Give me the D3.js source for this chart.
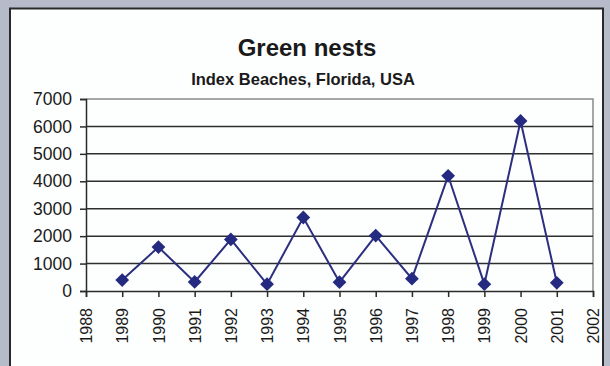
<!DOCTYPE html>
<html><head><meta charset="utf-8">
<script src="https://cdn.jsdelivr.net/npm/d3@7"></script>
<style>
html,body{margin:0;padding:0;background:#b5bbc9;}
svg{display:block;}
</style></head>
<body>
<svg id="chart" width="610" height="366"></svg>
<script>
const years = [1989,1990,1991,1992,1993,1994,1995,1996,1997,1998,1999,2000,2001];
const nests = [400,1600,330,1880,250,2680,320,2020,450,4200,250,6200,300];
const yTicks = [0,1000,2000,3000,4000,5000,6000,7000];
const xTicks = [1988,1989,1990,1991,1992,1993,1994,1995,1996,1997,1998,1999,2000,2001,2002];
const title = "Green nests";
const subtitle = "Index Beaches, Florida, USA";

const svg = d3.select("#chart");
const font = "'Liberation Sans', Arial, sans-serif";

// panel
svg.append("rect").attr("x",10).attr("y",8.5).attr("width",593).attr("height",360)
  .attr("fill","#fdfefe").attr("stroke","#2a2a2a").attr("stroke-width",2);

const L=86, R=593, T=99, B=291;
const x = d3.scaleLinear().domain([1988,2002]).range([L,R]);
const y = d3.scaleLinear().domain([0,7000]).range([B,T]);

svg.append("text").attr("x",307).attr("y",56).attr("text-anchor","middle")
  .attr("font-family",font).attr("font-weight","bold").attr("font-size",24).attr("fill","#1a1a1a").text(title);
svg.append("text").attr("x",303).attr("y",85).attr("text-anchor","middle")
  .attr("font-family",font).attr("font-weight","bold").attr("font-size",16.5).attr("fill","#1a1a1a").text(subtitle);

// plot border (top/right)
svg.append("path").attr("d",`M${L},${T}H${R}V${B}`).attr("fill","none").attr("stroke","#8a8a8a").attr("stroke-width",1.5);

// gridlines
svg.append("g").selectAll("line").data(yTicks.filter(v=>v>0&&v<7000)).join("line")
  .attr("x1",L).attr("x2",R).attr("y1",d=>y(d)).attr("y2",d=>y(d))
  .attr("stroke","#2e2e2e").attr("stroke-width",1.5);

// y axis
const ya = svg.append("g").attr("transform",`translate(${L},0)`)
  .call(d3.axisLeft(y).tickValues(yTicks).tickSize(6).tickPadding(8).tickFormat(d3.format("d")));
ya.select(".domain").attr("stroke","#2a2a2a").attr("stroke-width",1.5);
ya.selectAll(".tick line").attr("stroke","#2a2a2a").attr("stroke-width",1.5);
ya.selectAll("text").attr("font-family",font).attr("font-size",17.5).attr("fill","#1a1a1a");

// x axis
const xa = svg.append("g").attr("transform",`translate(0,${B})`)
  .call(d3.axisBottom(x).tickValues(xTicks).tickSize(6).tickFormat(d3.format("d")));
xa.select(".domain").attr("stroke","#2a2a2a").attr("stroke-width",1.5);
xa.selectAll(".tick line").attr("stroke","#2a2a2a").attr("stroke-width",1.5);
xa.selectAll("text").attr("font-family",font).attr("font-size",16).attr("fill","#1a1a1a")
  .attr("text-anchor","end").attr("transform","rotate(-90)")
  .attr("x",-17).attr("y",0).attr("dy","0.35em");

// line
const line = d3.line().x((d,i)=>x(years[i])).y(d=>y(d));
svg.append("path").datum(nests).attr("d",line).attr("fill","none")
  .attr("stroke","#2b2f7e").attr("stroke-width",2);

// diamonds (square rotated 45°)
const sym = d3.symbol().type(d3.symbolSquare).size(95);
svg.append("g").selectAll("path").data(nests).join("path")
  .attr("d",sym).attr("transform",(d,i)=>`translate(${x(years[i])},${y(d)}) rotate(45)`)
  .attr("fill","#242a80");
</script>
</body></html>
